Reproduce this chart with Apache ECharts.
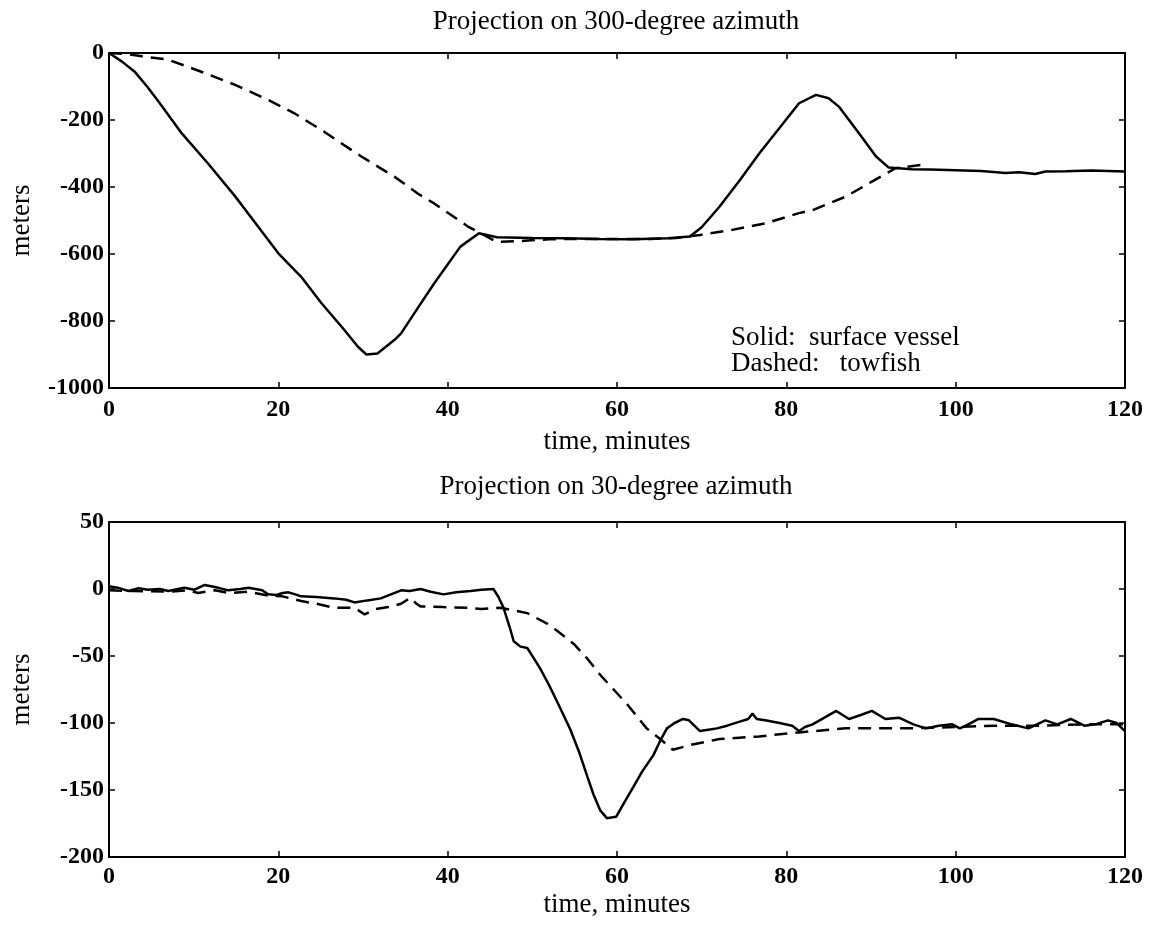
<!DOCTYPE html>
<html>
<head>
<meta charset="utf-8">
<script src="https://cdn.jsdelivr.net/npm/echarts@6/dist/echarts.min.js"></script>
<style>
html,body{margin:0;padding:0;background:#fff;}
#chart{width:1155px;height:929px;}
</style>
</head>
<body>
<div id="chart"></div>
<script>
// projection on 300-degree azimuth
const vessel300T = [0,1.5,3,4.5,6,8.6,11.7,14.9,17.6,20,22.7,25.1,27.8,29.4,30.4,31.7,33.7,34.5,36.5,38.4,41.5,43.7,45.8,50,54,58,61.9,66,68.6,70,72.1,74.5,76.8,79,81.5,83.5,85,86.2,88.6,90.6,92.1,94.8,97,100,103,105.9,107.5,109.4,110.6,113,116,118,120];
const vessel300V = [0,-25,-55,-100,-150,-240,-330,-428,-518,-598,-668,-747,-827,-877,-900,-897,-857,-837,-760,-688,-578,-538,-550,-552,-553,-555,-556,-553,-548,-520,-459,-380,-300,-230,-150,-125,-135,-160,-240,-309,-342,-347,-348,-350,-352,-358,-356,-361,-354,-353,-351,-352,-354];
const towfish300T = [0,2,3.9,7,10.9,14.9,18.8,21.9,25.1,29.8,33.7,36.5,38.4,42.4,45.8,48,52,56,60,64,67,69.8,73.6,77.6,81.5,83.1,87,90.1,92.9,96];
const towfish300V = [0,-3,-10,-20,-56,-95,-140,-180,-230,-309,-369,-420,-449,-518,-564,-562,-556,-555,-555,-555,-552,-543,-528,-508,-478,-469,-429,-384,-344,-334];

// projection on 30-degree azimuth
const vessel30T = [0,1,2.3,3.5,4.6,6,7,8.9,10.1,11.3,12.5,14.1,15.5,16.5,18.1,18.8,19.8,20.5,21.2,22,22.7,24.5,26.6,28,29,30.5,32.1,33.3,34.5,35.5,36.8,38,39.5,41,42.7,44,45.4,46,46.6,47.3,47.8,48.6,49.4,50.2,50.9,52,53.3,54.5,55.6,56.5,57.2,58,58.8,59.9,60.8,61.9,63,64.3,65.2,65.9,66.8,67.8,68.5,69.8,70.8,71.8,73,74.5,75.5,76,76.5,77.5,79.2,80.7,81.5,82.2,83.1,84.5,85.9,87.4,88.8,90.1,91.7,93.3,95,96.5,98,99.6,100.5,101.5,102.7,104.5,106.6,108.6,110.6,112,113.6,115.2,116.5,118,119,120];
const vessel30V = [2,1,-1.5,0.5,-0.5,0,-1.5,1,-0.5,3,1.5,-1,0,1,-1,-4,-4.5,-3,-2.5,-4,-5.5,-6,-7,-8,-10,-8.5,-7,-4,-1,-1.5,0,-2,-4,-2.5,-1.5,-0.5,0,-6,-14,-28,-39,-43,-44,-52,-59,-72,-89,-105,-123,-140,-153,-165,-171,-170,-160,-148,-136,-124,-112,-104,-100,-97,-98,-106,-105,-104,-102,-99,-97,-93,-97,-98,-100,-102,-106,-103,-101,-96,-91,-97,-94,-91,-97,-96,-101,-104,-102,-101,-104,-101,-97,-97,-101,-104,-98,-101,-97,-102,-101,-98,-100,-106];
const towfish30T = [0,3,7,9.4,10.5,12.5,14.1,16.5,18.8,20.5,22.7,24.5,26.6,29,30.2,31.4,33,34.5,35.6,36.3,36.8,39.5,42.4,44,46.2,47.8,49.4,51.8,53.3,54.9,56.5,58,59.6,61.2,63.5,65.1,66.6,68.9,72.1,76.8,81.5,87,94.8,100,105,110,115,120];
const towfish30V = [-1,-1.5,-2,-1,-3,-1,-3,-2,-5,-5.5,-9,-11,-14,-14,-19,-15,-13.5,-11,-6.5,-11,-13,-13.5,-14,-15,-14,-16,-18,-26,-33,-41,-52,-64,-75,-86,-104,-112,-120,-116,-112,-110,-107,-104,-104,-103,-102,-102,-101,-101];

const FONT = '"Liberation Serif", "DejaVu Serif", serif';

function pairs(t, v){
    return t.map((x, i) => [x, v[i]]);
}

const chart = echarts.init(document.getElementById('chart'));

const grids = [
    {left:107, top:53, width:1018, height:335},
    {left:107, top:522, width:1018, height:335}
];

function xAxes(gi, gap, margin){
    const base = {
        type:'value', gridIndex:gi, min:0, max:120, interval:20,
        splitLine:{show:false},
        axisLine:{show:true, onZero:false, lineStyle:{color:'#000', width:2}},
        axisTick:{show:true, inside:true, length:6, lineStyle:{color:'#000', width:1.5}}
    };
    return [
        Object.assign({}, base, {
            position:'bottom',
            name:'time, minutes', nameLocation:'middle', nameGap:gap,
            nameTextStyle:{color:'#000', fontSize:27, fontFamily:FONT},
            axisLabel:{color:'#000', fontSize:24, fontWeight:'bold', fontFamily:FONT, margin:margin}
        }),
        Object.assign({}, base, {position:'top', axisLabel:{show:false}})
    ];
}

function yAxes(gi, min, max, step){
    const base = {
        type:'value', gridIndex:gi, min:min, max:max, interval:step,
        splitLine:{show:false},
        axisLine:{show:true, onZero:false, lineStyle:{color:'#000', width:2}},
        axisTick:{show:true, inside:true, length:6, lineStyle:{color:'#000', width:1.5}}
    };
    return [
        Object.assign({}, base, {
            position:'left',
            name:'meters', nameLocation:'middle', nameGap:74, nameRotate:90,
            nameTextStyle:{color:'#000', fontSize:27, fontFamily:FONT},
            axisLabel:{color:'#000', fontSize:24, fontWeight:'bold', fontFamily:FONT, margin:5,
                formatter:v => String(v)}
        }),
        Object.assign({}, base, {position:'right', axisLabel:{show:false}})
    ];
}

function line(name, data, xi, yi, dashed){
    return {
        name:name, type:'line', data:data,
        xAxisIndex:xi, yAxisIndex:yi,
        showSymbol:false, smooth:false, animation:false,
        lineStyle:{color:'#000', width:2.5, type: dashed ? [13, 8] : 'solid'}
    };
}

const option = {
    backgroundColor:'#fff',
    animation:false,
    grid:grids,
    xAxis:[].concat(xAxes(0, 40, 10), xAxes(1, 34, 8)),
    yAxis:[].concat(yAxes(0, -1000, 0, 200), yAxes(1, -200, 50, 50)),
    graphic:[
        {type:'text', x:616, y:22, style:{text:'Projection on 300-degree azimuth', fill:'#000', font:'27px ' + FONT, textAlign:'center', textVerticalAlign:'middle'}},
        {type:'text', x:616, y:487, style:{text:'Projection on 30-degree azimuth', fill:'#000', font:'27px ' + FONT, textAlign:'center', textVerticalAlign:'middle'}},
        {type:'text', x:731, y:338, style:{text:'Solid:  surface vessel', fill:'#000', font:'27px ' + FONT, textVerticalAlign:'middle'}},
        {type:'text', x:731, y:364, style:{text:'Dashed:   towfish', fill:'#000', font:'27px ' + FONT, textVerticalAlign:'middle'}}
    ],
    series:[
        line('surface vessel', pairs(vessel300T, vessel300V), 0, 0, false),
        line('towfish', pairs(towfish300T, towfish300V), 0, 0, true),
        line('surface vessel', pairs(vessel30T, vessel30V), 2, 2, false),
        line('towfish', pairs(towfish30T, towfish30V), 2, 2, true)
    ]
};

chart.setOption(option);
</script>
</body>
</html>
